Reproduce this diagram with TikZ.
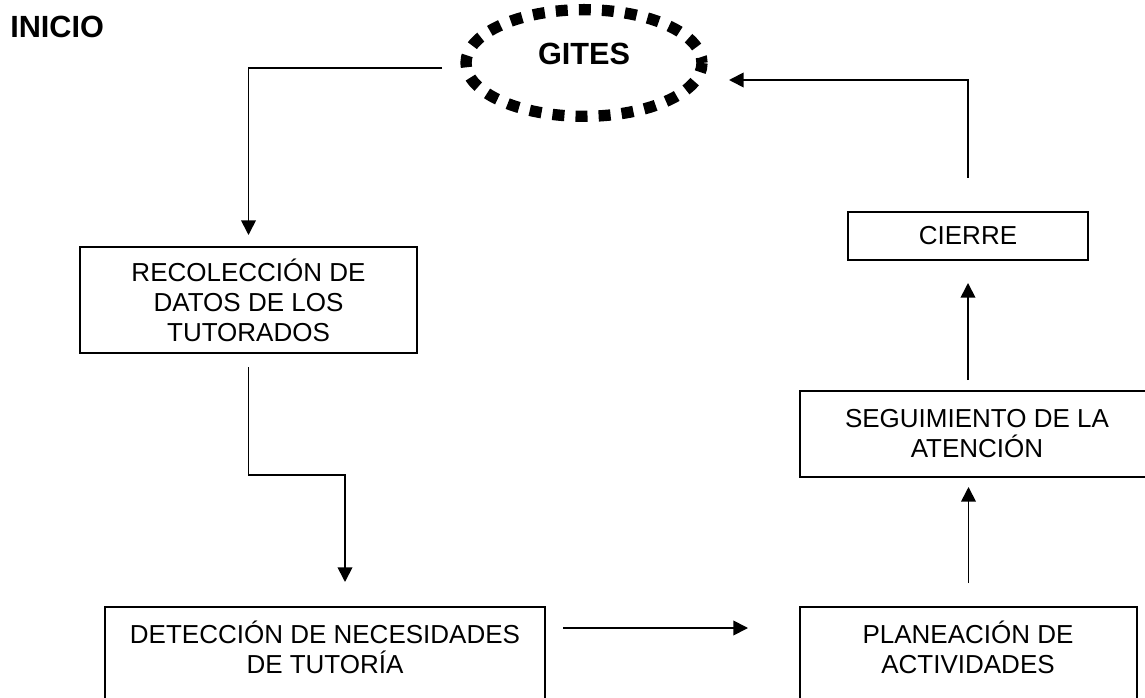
\documentclass[tikz,border=0pt]{standalone}
\usepackage{fontspec}
\setmainfont{Liberation Sans}
\usetikzlibrary{arrows.meta,shapes.geometric}

\begin{document}
\begin{tikzpicture}[x=0.75pt,y=-0.75pt,
		caja/.style={draw,line width=1.3pt,inner sep=0pt,outer sep=0pt},
		texto/.style={align=center,font=\fontsize{19.5}{22.5}\selectfont,inner sep=0pt},
		titulo/.style={font=\fontsize{23}{27}\selectfont\bfseries,inner sep=0pt},
		flecha/.style={line width=1.3pt,-{Triangle[width=11pt,length=11pt]}}]
	\useasboundingbox (0,0) rectangle (1145,698);
	\node[titulo,anchor=base west] (inicio) at (10,38) {INICIO};
	\node[titulo,ellipse,draw,line width=8.5pt,dash pattern=on 9pt off 8.32pt,dash phase=4.5pt,minimum width=177pt,minimum height=80pt,outer sep=0pt,text depth=13.5pt] (gites) at (584,63) {GITES};
	\node[caja,texto,minimum width=252.75pt,minimum height=79.5pt] (reco) at (248.5,300) {RECOLECCIÓN DE\\DATOS DE LOS\\TUTORADOS};
	\node[caja,minimum width=330pt,minimum height=92pt,anchor=north] (dete) at (325,607) {};
	\node[texto] (detetexto) at (325,647) {DETECCIÓN DE NECESIDADES\\DE TUTORÍA};
	\node[caja,minimum width=252.75pt,minimum height=92pt,anchor=north] (plan) at (968.5,607) {};
	\node[texto] (plantexto) at (968,647) {PLANEACIÓN DE\\ACTIVIDADES};
	\node[caja,texto,minimum width=265.5pt,minimum height=64.5pt] (segu) at (977,434) {SEGUIMIENTO DE LA\\ATENCIÓN};
	\node[caja,texto,minimum width=180pt,minimum height=36pt] (cierre) at (968,236) {CIERRE};
	\draw[flecha,shorten >=9pt] ([xshift=-18pt,yshift=-3.75pt]gites.west) -| (reco.north);
	\draw[flecha,shorten <=10.5pt,shorten >=18.75pt] (reco.south) -- ++(0,122) -| ([xshift=15pt]dete.north);
	\draw[flecha,shorten <=13.5pt,shorten >=39pt] ([yshift=-15.75pt]dete.north east) -- ([yshift=-15.75pt]plan.north west);
	\draw[flecha,shorten <=18pt,shorten >=7.5pt] (plan.north) -- (plan.north |- segu.south);
	\draw[flecha,shorten <=8.25pt,shorten >=17.25pt] (cierre.south |- segu.north) -- (cierre.south);
	\draw[flecha,shorten <=25.5pt] (cierre.north) |- ([xshift=20.25pt,yshift=-12.75pt]gites.east);
\end{tikzpicture}
\end{document}
